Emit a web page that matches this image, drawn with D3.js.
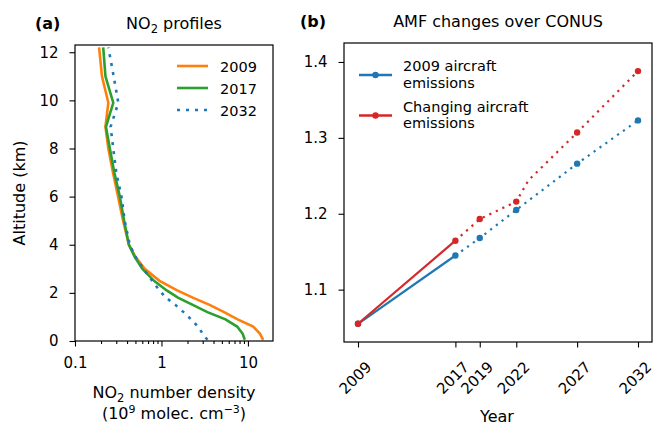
<!DOCTYPE html>
<html>
<head>
<meta charset="utf-8">
<script src="https://cdn.jsdelivr.net/npm/d3@7"></script>
<style>
body{margin:0;background:#fff;}
svg{font-family:"DejaVu Sans",sans-serif;}
</style>
</head>
<body>
<svg id="chart" width="654" height="425"></svg>
<script>
// panel (a) NO2 profiles
var altitude=[0.05,0.3,0.6,0.9,1.2,1.5,1.8,2.1,2.5,3.0,3.5,4.0,5.0,6.0,7.0,8.0,8.9,9.9,11.0,12.2];
var no2_2009=[15.0,13.8,11.5,7.6,5.3,3.6,2.3,1.52,0.95,0.64,0.5,0.42,0.36,0.315,0.275,0.243,0.225,0.243,0.205,0.19];
var no2_2017=[9.2,8.7,7.5,5.5,3.4,2.3,1.55,1.15,0.82,0.6,0.49,0.42,0.37,0.33,0.285,0.253,0.228,0.277,0.225,0.212];
var no2_2032=[3.4,3.0,2.65,2.2,1.8,1.45,1.13,0.95,0.78,0.62,0.5,0.43,0.375,0.345,0.3,0.277,0.258,0.317,0.28,0.243];
var profileNames=["2009","2017","2032"];
var altTicks=[0,2,4,6,8,10,12];
var densTicks=[0.1,1,10];

// panel (b) AMF changes
var years=[2009,2017,2019,2022,2027,2032];
var amfFixed=[1.055,1.145,1.168,1.205,1.266,1.323];
var amfChanging=[1.055,1.1645,1.193,1.216,1.307,1.388];
// the dotted red line has one more vertex (no marker) just after 2022
var changingLineYears=[2017,2019,2022,2023,2027,2032];
var changingLineValues=[1.1645,1.193,1.216,1.244,1.307,1.388];
var amfTicks=[1.1,1.2,1.3,1.4];
var seriesNames=[["2009 aircraft","emissions"],["Changing aircraft","emissions"]];

var svg=d3.select("#chart");
var black="#000";

// ---------- panel (a) ----------
var xa=d3.scaleLog().domain([0.1,19.5]).range([75,273]);
var ya=d3.scaleLinear().domain([0,12.3]).range([341,45]);

var minorTicks=[];
[0.1,1,10].forEach(function(dec){
    for(var k=2;k<=9;k++){
        var v=dec*k;
        if(v<19.5) minorTicks.push(v);
    }
});

var ga=svg.append("g");

var profiles=[
    {name:profileNames[0],values:no2_2009,color:"#ff7f0e",dash:null},
    {name:profileNames[1],values:no2_2017,color:"#2ca02c",dash:null},
    {name:profileNames[2],values:no2_2032,color:"#1f77b4",dash:"3,6"}
];

var profLine=d3.line()
    .x(function(d){return xa(d[0]);})
    .y(function(d){return ya(d[1]);});

ga.selectAll("path.prof").data(profiles).enter().append("path")
    .attr("class","prof")
    .attr("d",function(p){
        return profLine(p.values.map(function(v,i){return [v,altitude[i]];}));
    })
    .attr("fill","none")
    .attr("stroke",function(p){return p.color;})
    .attr("stroke-width",2.6)
    .attr("stroke-dasharray",function(p){return p.dash;});

ga.append("g").attr("transform","translate(0,341)")
    .call(d3.axisBottom(xa).tickValues(densTicks).tickSize(5.5).tickPadding(11)
        .tickFormat(function(d){return d<1?"0.1":d3.format("d")(d);}));
ga.append("g").attr("transform","translate(0,341)")
    .call(d3.axisBottom(xa).tickValues(minorTicks).tickSize(3).tickFormat(""));
ga.append("g").attr("transform","translate(75,0)")
    .call(d3.axisLeft(ya).tickValues(altTicks).tickSize(5.5).tickPadding(11));

ga.append("rect").attr("x",75).attr("y",45).attr("width",198).attr("height",296)
    .attr("fill","none").attr("stroke",black).attr("stroke-width",1.2);

// legend (a)
var legA=ga.selectAll("g.lega").data(profiles).enter().append("g")
    .attr("class","lega")
    .attr("transform",function(d,i){return "translate(0,"+(66+i*22)+")";});
legA.append("line").attr("x1",177).attr("x2",208).attr("y1",0).attr("y2",0)
    .attr("stroke",function(d){return d.color;})
    .attr("stroke-width",2.6)
    .attr("stroke-dasharray",function(d){return d.dash;});
legA.append("text").attr("x",220).attr("y",5.5).attr("font-size",14.5)
    .text(function(d){return d.name;});

// titles and labels (a)
ga.append("text").attr("x",35).attr("y",29).attr("font-size",16).attr("font-weight","bold").text("(a)");
var tA=ga.append("text").attr("x",174).attr("y",29).attr("font-size",16).attr("text-anchor","middle");
tA.append("tspan").text("NO");
tA.append("tspan").attr("font-size",11.5).attr("dy",3.5).text("2");
tA.append("tspan").attr("dy",-3.5).text(" profiles");

var lA1=ga.append("text").attr("x",174).attr("y",398).attr("font-size",16).attr("text-anchor","middle");
lA1.append("tspan").text("NO");
lA1.append("tspan").attr("font-size",11.5).attr("dy",3.5).text("2");
lA1.append("tspan").attr("dy",-3.5).text(" number density");
var lA2=ga.append("text").attr("x",174).attr("y",418.5).attr("font-size",16).attr("text-anchor","middle");
lA2.append("tspan").text("(10");
lA2.append("tspan").attr("font-size",11).attr("dy",-5.5).text("9");
lA2.append("tspan").attr("dy",5.5).text(" molec. cm");
lA2.append("tspan").attr("font-size",11).attr("dy",-5.5).text("\u22123");
lA2.append("tspan").attr("dy",5.5).text(")");

ga.append("text").attr("transform","translate(25,193) rotate(-90)")
    .attr("font-size",16).attr("text-anchor","middle").text("Altitude (km)");

// ---------- panel (b) ----------
var xb=d3.scaleLinear().domain([2007.85,2033.15]).range([344,652]);
var yb=d3.scaleLinear().domain([1.031,1.425]).range([342,43]);

var gb=svg.append("g");

var series=[
    {name:seriesNames[0],values:amfFixed,color:"#1f77b4",
        dotYears:years.slice(1),dotValues:amfFixed.slice(1)},
    {name:seriesNames[1],values:amfChanging,color:"#d62728",
        dotYears:changingLineYears,dotValues:changingLineValues}
];

var amfLine=d3.line()
    .x(function(d){return xb(d[0]);})
    .y(function(d){return yb(d[1]);});

series.forEach(function(s){
    // solid part: 2009-2017
    gb.append("path")
        .attr("d",amfLine([[years[0],s.values[0]],[years[1],s.values[1]]]))
        .attr("fill","none").attr("stroke",s.color).attr("stroke-width",2.2);
    // dotted part: projections
    gb.append("path")
        .attr("d",amfLine(s.dotYears.map(function(y,i){return [y,s.dotValues[i]];})))
        .attr("fill","none").attr("stroke",s.color).attr("stroke-width",2.2)
        .attr("stroke-dasharray","2.2,5");
    gb.selectAll(null).data(years).enter().append("circle")
        .attr("cx",function(d){return xb(d);})
        .attr("cy",function(d,i){return yb(s.values[i]);})
        .attr("r",3.2)
        .attr("fill",s.color);
});

var axB=gb.append("g").attr("transform","translate(0,342)")
    .call(d3.axisBottom(xb).tickValues(years).tickSize(5.5).tickFormat(d3.format("d")));
axB.selectAll("text")
    .attr("y",null).attr("dy",null)
    .attr("dominant-baseline","central")
    .attr("text-anchor","middle")
    .attr("transform","translate(-3,36) rotate(-45)");
gb.append("g").attr("transform","translate(344,0)")
    .call(d3.axisLeft(yb).tickValues(amfTicks).tickSize(5.5).tickPadding(11).tickFormat(d3.format(".1f")));

gb.append("rect").attr("x",344).attr("y",43).attr("width",308).attr("height",299)
    .attr("fill","none").attr("stroke",black).attr("stroke-width",1.2);

// legend (b)
var legB=gb.selectAll("g.legb").data(series).enter().append("g")
    .attr("class","legb")
    .attr("transform",function(d,i){return "translate(0,"+(75+i*40.5)+")";});
legB.append("line").attr("x1",359).attr("x2",392).attr("y1",0).attr("y2",0)
    .attr("stroke",function(d){return d.color;}).attr("stroke-width",2.4);
legB.append("circle").attr("cx",375.5).attr("cy",0).attr("r",3.2)
    .attr("fill",function(d){return d.color;});
legB.append("text").attr("x",403).attr("y",-4).attr("font-size",14.5)
    .text(function(d){return d.name[0];});
legB.append("text").attr("x",403).attr("y",12.5).attr("font-size",14.5)
    .text(function(d){return d.name[1];});

gb.append("text").attr("x",300).attr("y",27).attr("font-size",16).attr("font-weight","bold").text("(b)");
gb.append("text").attr("x",498).attr("y",27).attr("font-size",16).attr("text-anchor","middle")
    .text("AMF changes over CONUS");
gb.append("text").attr("x",497).attr("y",421.5).attr("font-size",16).attr("text-anchor","middle").text("Year");

// axis styling
svg.selectAll(".domain").remove();
svg.selectAll(".tick line").attr("stroke",black).attr("stroke-width",1.1);
svg.selectAll(".tick text").attr("fill",black).attr("font-size",15).attr("font-family","DejaVu Sans");
</script>
</body>
</html>
